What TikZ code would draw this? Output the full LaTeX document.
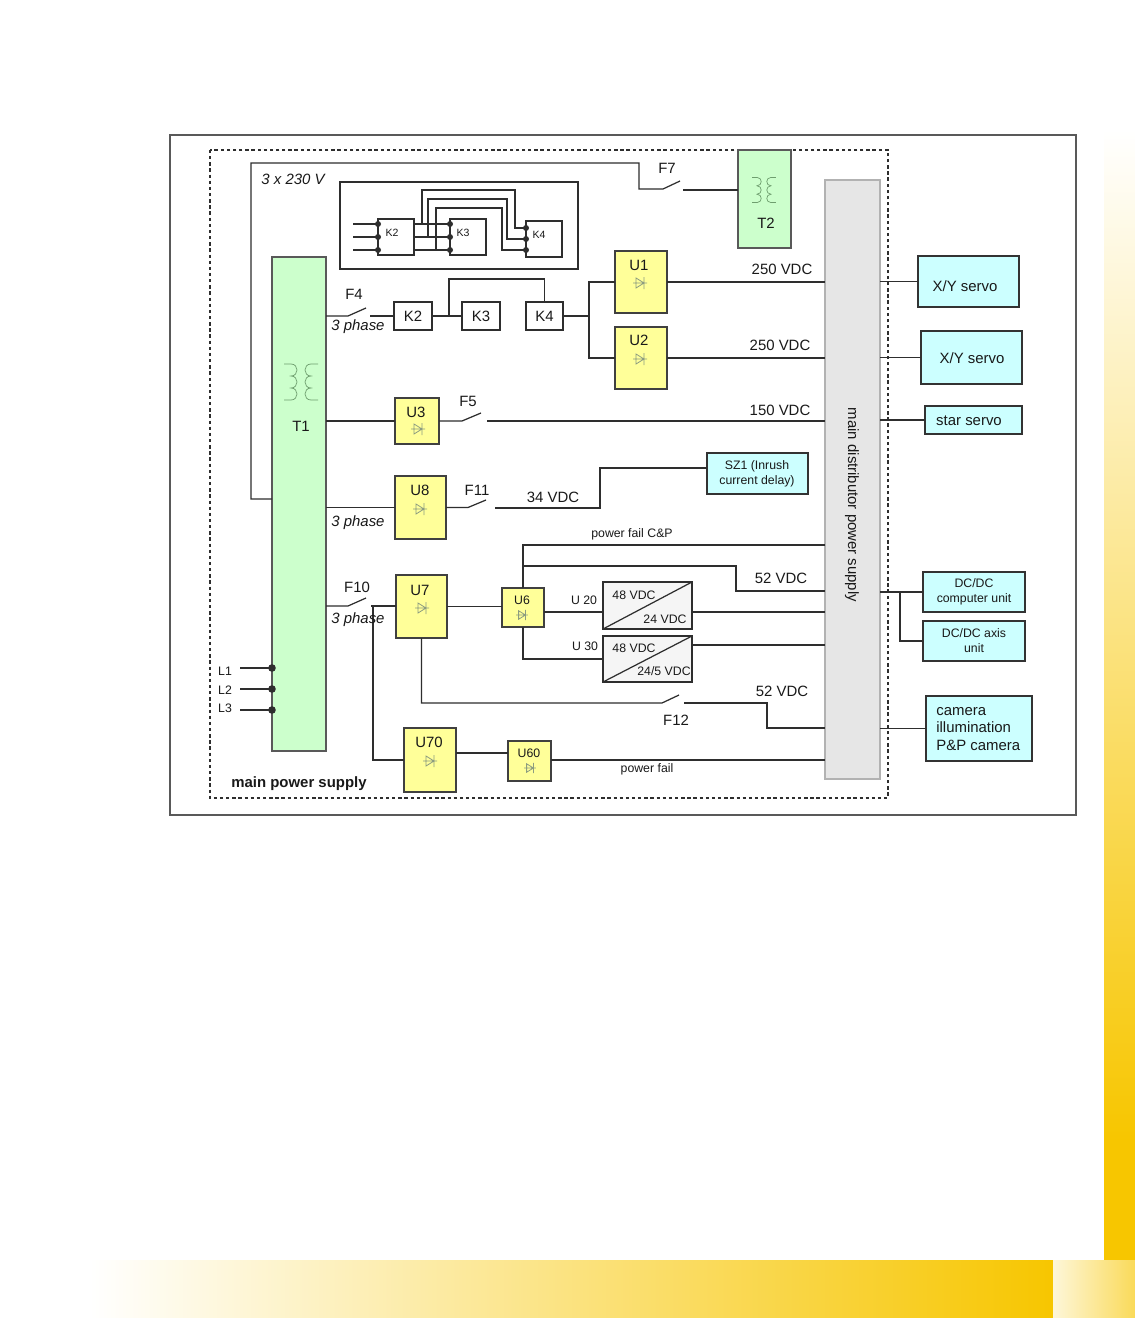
\documentclass[tikz,border=0pt]{standalone}
\usepackage{fontspec}
\setmainfont{Liberation Sans}
\usetikzlibrary{fit}
\definecolor{yfill}{HTML}{FFFF99}
\definecolor{gfill}{HTML}{CCFFCC}
\definecolor{cfill}{HTML}{CCFFFF}
\definecolor{dfill}{HTML}{E6E6E6}
\definecolor{wirec}{HTML}{2E2E2E}
\definecolor{ygold}{HTML}{F7C600}
\definecolor{coilc}{HTML}{6E9E6E}
\definecolor{diodec}{HTML}{8C9C80}
\begin{document}
\begin{tikzpicture}[x=0.02cm,y=-0.02cm,
  bx/.style={draw=wirec, line width=0.6pt, inner sep=0pt, outer sep=0pt},
  ybox/.style={bx, draw=black!75, fill=yfill},
  gbox/.style={bx, draw=black!65, fill=gfill},
  cbox/.style={bx, draw=black!80, fill=cfill},
  dbox/.style={bx, draw=black!30, fill=dfill},
  wbox/.style={bx, fill=white},
  cvbox/.style={bx, fill=black!4},
  wire/.style={draw=wirec, line width=0.7pt},
  twire/.style={draw=wirec, line width=1.2pt},
  lab/.style={font=\fontsize{8.5}{10.2}\selectfont, inner sep=0pt, text=black!90},
  ilab/.style={lab, font=\fontsize{8.5}{10.2}\selectfont\itshape},
  blab/.style={lab, font=\fontsize{8.5}{10.2}\selectfont\bfseries},
  slab/.style={font=\fontsize{7}{8.5}\selectfont, inner sep=0pt, text=black!90},
  tlab/.style={font=\fontsize{6}{7}\selectfont, inner sep=0pt, text=black!90},
  xfmr/.pic={
    \draw[coilc, line width=0.4pt] (-17,-18) -- (-10,-18)
      .. controls (-2,-18) and (-2,-6) .. (-10,-6)
      .. controls (-2,-6) and (-2,6) .. (-10,6)
      .. controls (-2,6) and (-2,18) .. (-10,18) -- (-17,18);
    \draw[coilc, line width=0.4pt] (17,-18) -- (10,-18)
      .. controls (2,-18) and (2,-6) .. (10,-6)
      .. controls (2,-6) and (2,6) .. (10,6)
      .. controls (2,6) and (2,18) .. (10,18) -- (17,18);
  },
  diode/.pic={
    \draw[diodec, line width=0.45pt] (-7,0) -- (7,0) (-4,-5) -- (-4,5) -- (4,0) -- cycle (4,-6) -- (4,6);
  }
]
\useasboundingbox (0,0) rectangle (1135,1318);
\fill[white] (0,0) rectangle (1135,1318);
% page decoration
\shade[top color=white, bottom color=ygold, middle color=ygold!50!white] (1104,130) rectangle (1135,1140);
\fill[ygold] (1104,1139) rectangle (1135,1260);
\shade[left color=white, right color=ygold] (90,1260) rectangle (1053,1318);
\shade[left color=ygold!15!white, right color=ygold!65!white] (1053,1260) rectangle (1135,1318);
% frames
\draw[draw=black!65, line width=0.9pt] (170,135) rectangle (1076,815);
\draw[wirec, line width=0.6pt, dash pattern=on 1.9pt off 1.6pt] (210,150) rectangle (888,798);

% boxes
\node[gbox, fit={(272,257)(326,751)}] (T1) {};
\node[gbox, fit={(738,150)(791,248)}] (T2) {};
\node[dbox, fit={(825,180)(880,779)}] (D) {};
\node[wbox, fit={(340,182)(578,269)}] (inset) {};
\node[wbox, fit={(378,219)(414,255)}] (iK2) {};
\node[wbox, fit={(450,219)(486,255)}] (iK3) {};
\node[wbox, fit={(526,221)(562,257)}] (iK4) {};
\node[wbox, fit={(394,302)(432,330)}] (K2) {};
\node[wbox, fit={(462,302)(500,330)}] (K3) {};
\node[wbox, fit={(526,302)(563,330)}] (K4) {};
\node[ybox, fit={(615,251)(667,313)}] (U1) {};
\node[ybox, fit={(615,327)(667,389)}] (U2) {};
\node[ybox, fit={(395,398)(439,444)}] (U3) {};
\node[ybox, fit={(395,476)(446,539)}] (U8) {};
\node[cbox, fit={(707,453)(808,494)}] (SZ1) {};
\node[ybox, fit={(396,575)(447,638)}] (U7) {};
\node[ybox, fit={(502,588)(544,627)}] (U6) {};
\node[cvbox, fit={(603,582)(692,629)}] (C1) {};
\node[cvbox, fit={(603,636)(692,682)}] (C2) {};
\node[ybox, fit={(404,728)(456,792)}] (U70) {};
\node[ybox, fit={(508,741)(551,781)}] (U60) {};
\node[cbox, fit={(918,256)(1019,307)}] (XY1) {};
\node[cbox, fit={(921,331)(1022,384)}] (XY2) {};
\node[cbox, fit={(925,406)(1022,434)}] (star) {};
\node[cbox, fit={(923,572)(1025,612)}] (DC1) {};
\node[cbox, fit={(923,621)(1025,661)}] (DC2) {};
\node[cbox, fit={(926,696)(1032,761)}] (cam) {};

% converter diagonals
\draw[wire] (C1.south west) -- (C1.north east);
\draw[wire] (C2.south west) -- (C2.north east);

% transformer and diode symbols
\pic at (301,382) {xfmr};
\pic[scale=0.7] at (764,190) {xfmr};
\pic at (640,283) {diode};
\pic at (640,359) {diode};
\pic at (418,429) {diode};
\pic at (420,509) {diode};
\pic at (422,608) {diode};
\pic[scale=0.85] at (522,615) {diode};
\pic at (430,761) {diode};
\pic[scale=0.85] at (530,768) {diode};

% inset wiring
\foreach \y in {224,237,250} {
  \draw[twire] (353,\y) -- (iK2.west |- 0,\y);
  \draw[twire] (iK2.east |- 0,\y) -- (iK3.west |- 0,\y);
  \fill[wirec] (iK2.west |- 0,\y) circle[radius=3];
  \fill[wirec] (iK3.west |- 0,\y) circle[radius=3];
}
\draw[wirec, line width=0.8pt] (422,224) -- (422,190) -- (515,190) -- (515,228) -- (iK4.west |- 0,228);
\draw[wirec, line width=0.8pt] (428,237) -- (428,199) -- (507,199) -- (507,239) -- (iK4.west |- 0,239);
\draw[wirec, line width=0.8pt] (436,250) -- (436,208) -- (502,208) -- (502,250) -- (iK4.west |- 0,250);
\foreach \y in {228,239,250} { \fill[wirec] (iK4.west |- 0,\y) circle[radius=3]; }

% 3 x 230 V / F7
\draw[wire] (T1.west |- 0,499) -- (251,499) -- (251,163) -- (639,163) -- (639,189) -- (663,189) -- (680,181);
\draw[wire] (683,190) -- (T2.west |- 0,190);

% F4 branch
\draw[wire] (T1.east |- K2.west) -- (348,316) -- (366,308);
\draw[wire] (370,316) -- (K2.west);
\draw[wire] (K2.east) -- (K3.west);
\draw[wire] (449,316) -- (449,279) -- (K4.north |- 0,279) -- (K4.north);
\draw[wire] (K4.east) -- (589,316);
\draw[wire] (U1.west) -| (589,358) -- (U2.west);
\draw[wire] (U1.east) -- (D.west |- U1.east);
\draw[wire] (U2.east) -- (D.west |- U2.east);

% outputs right
\draw[wire] (D.east |- XY1.west) -- (XY1.west);
\draw[wire] (D.east |- XY2.west) -- (XY2.west);
\draw[wire] (D.east |- star.west) -- (star.west);
\draw[wire] (D.east |- DC1.west) -- (DC1.west);
\draw[wire] (900,592) |- (DC2.west);
\draw[wire] (D.east |- cam.west) -- (cam.west);

% U3 / F5
\draw[wire] (T1.east |- U3.west) -- (U3.west);
\draw[wire] (U3.east) -- (462,421) -- (481,413);
\draw[wire] (487,421) -- (D.west |- 0,421);

% U8 / F11
\draw[wire] (T1.east |- U8.west) -- (U8.west);
\draw[wire] (U8.east) -- (468,507.5) -- (486,500);
\draw[wire] (495,508) -- (600,508) -- (600,468) -- (SZ1.west |- 0,468);

% U6 area
\draw[wire] (D.west |- 0,545) -- (523,545) -- (U6.north);
\draw[wire] (523,566) -- (736,566) -- (736,591) -- (D.west |- 0,591);
\draw[wire] (U6.south) |- (C2.west);
\draw[wire] (U6.east |- 0,612) -- (C1.west |- 0,612);
\draw[wire] (C1.east |- 0,612) -- (D.west |- 0,612);
\draw[wire] (C2.east |- 0,645) -- (D.west |- 0,645);

% F10 / U7
\draw[wire] (T1.east |- 0,606) -- (348,606) -- (366,598);
\draw[wire] (371,606) -- (U7.west |- 0,606);
\draw[wire] (U7.east) -- (U6.west |- U7.east);
\draw[wire] (373,606) |- (U70.west);
\draw[wire] (U7.south) |- (662,703) -- (679,695);
\draw[wire] (684,703) -- (767,703) -- (767,728) -- (D.west |- 0,728);
\draw[wire] (U70.east |- 0,753) -- (U60.west |- 0,753);
\draw[wire] (U60.east |- 0,760) -- (D.west |- 0,760);

% L1-L3
\foreach \y in {668,689,710} {
  \draw[wirec, line width=1.1pt] (240,\y) -- (T1.west |- 0,\y);
  \fill[wirec] (T1.west |- 0,\y) circle[radius=3.8];
}

% labels
\node[ilab] (l230) at (293,179) {3 x 230 V};
\node[lab] (lF7) at (667,168) {F7};
\node[lab] (lT2) at (766,223) {T2};
\node[tlab] (liK2) at (392,233) {K2};
\node[tlab] (liK3) at (463,233) {K3};
\node[tlab] (liK4) at (539,235) {K4};
\node[lab] (lF4) at (354,294) {F4};
\node[ilab] (lph1) at (358,327) {3 phase};
\node[lab] (lK2) at (K2.center) {K2};
\node[lab] (lK3) at (K3.center) {K3};
\node[lab] (lK4) at (K4.center) {K4};
\node[lab] (lU1) at (639,265) {U1};
\node[lab] (lU2) at (639,340) {U2};
\node[lab] (lv1) at (782,269) {250 VDC};
\node[lab] (lv2) at (780,345) {250 VDC};
\node[lab] (lT1) at (301,426) {T1};
\node[lab] (lU3) at (416,412) {U3};
\node[lab] (lF5) at (468,401) {F5};
\node[lab] (lv3) at (780,410) {150 VDC};
\node[lab] (lU8) at (420,490) {U8};
\node[lab] (lF11) at (477,490) {F11};
\node[lab] (lv4) at (553,497) {34 VDC};
\node[ilab] (lph2) at (358,523) {3 phase};
\node[slab, align=center] (lSZ) at (757,474) {SZ1 (Inrush\\current delay)};
\node[slab] (lpf1) at (632,534) {power fail C\&P};
\node[lab] (lv5) at (781,578) {52 VDC};
\node[lab] (lF10) at (357,587) {F10};
\node[ilab] (lph3) at (358,620) {3 phase};
\node[lab] (lU7) at (420,590) {U7};
\node[slab] (lU6) at (522,600) {U6};
\node[slab] (lU20) at (584,600) {U 20};
\node[slab] (lU30) at (585,646) {U 30};
\node[slab] (lc1a) at (634,595) {48 VDC};
\node[slab] (lc1b) at (665,619) {24 VDC};
\node[slab] (lc2a) at (634,648) {48 VDC};
\node[slab] (lc2b) at (664,671) {24/5 VDC};
\node[lab] (lv6) at (782,691) {52 VDC};
\node[lab] (lF12) at (676,720) {F12};
\node[lab] (lU70) at (429,742) {U70};
\node[slab] (lU60) at (529,753) {U60};
\node[slab] (lpf2) at (647,769) {power fail};
\node[slab] (lL1) at (225,671) {L1};
\node[slab] (lL2) at (225,690) {L2};
\node[slab] (lL3) at (225,708) {L3};
\node[blab] (lmps) at (299,784) {main power supply};
\node[lab, rotate=-90] (ldist) at (852,505) {main distributor power supply};
\node[lab] (lXY1) at (965,286) {X/Y servo};
\node[lab] (lXY2) at (972,358) {X/Y servo};
\node[lab] (lstar) at (969,421) {star servo};
\node[slab, align=center] (lDC1) at (974,592) {DC/DC\\computer unit};
\node[slab, align=center] (lDC2) at (974,641) {DC/DC axis\\unit};
\node[lab, align=left, anchor=west] (lcam) at (936,729) {camera\\illumination\\P\&P camera};
\end{tikzpicture}
\end{document}
